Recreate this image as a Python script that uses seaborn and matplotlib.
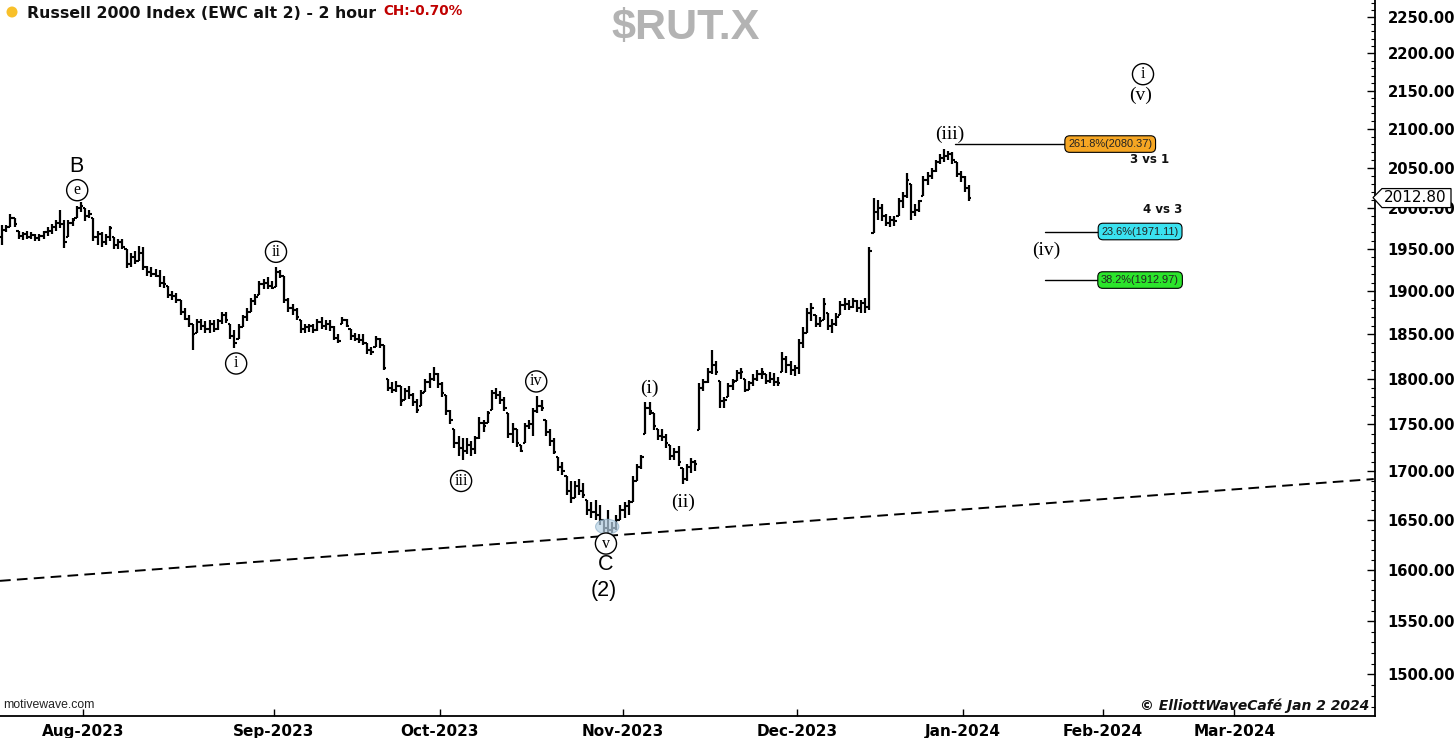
import numpy as np
import matplotlib
matplotlib.use("Agg")
import matplotlib.pyplot as plt
import seaborn as sns
from matplotlib.ticker import FixedLocator, FixedFormatter, NullFormatter
from matplotlib.patches import Ellipse, Polygon, Circle

# Russell 2000, half-day bars (two per trading day), Jul 18 2023 - Jan 2 2024
jul_high = [1979, 1979, 1992, 1988, 1972, 1970, 1972, 1970, 1968, 1968,
            1972, 1976, 1980, 1985, 1997, 1985, 1985, 1988, 2002, 2007]
jul_low = [1955, 1970, 1976, 1976, 1962, 1961, 1962, 1962, 1960, 1960,
           1962, 1966, 1968, 1972, 1975, 1951, 1965, 1978, 1988, 1995]
jul_close = [1973, 1976, 1988, 1980, 1966, 1968, 1964, 1967, 1963, 1966,
             1970, 1972, 1977, 1982, 1980, 1958, 1982, 1985, 2000, 2002]

aug_high = [2000, 1998, 1988, 1972, 1970, 1968, 1978, 1965, 1962, 1962,
            1950, 1945, 1948, 1954, 1952, 1930, 1928, 1926, 1925, 1918,
            1906, 1900, 1898, 1890, 1880, 1872, 1862, 1868, 1868, 1865,
            1866, 1866, 1868, 1876, 1876, 1862, 1855, 1862, 1872, 1880,
            1892, 1897, 1912, 1914, 1916, 1912]
aug_low = [1984, 1988, 1960, 1955, 1952, 1955, 1960, 1950, 1950, 1950,
           1927, 1928, 1932, 1935, 1925, 1918, 1917, 1916, 1905, 1904,
           1892, 1890, 1886, 1872, 1866, 1858, 1832, 1852, 1855, 1852,
           1852, 1853, 1855, 1862, 1863, 1845, 1834, 1845, 1858, 1865,
           1876, 1884, 1895, 1902, 1903, 1902]
aug_close = [1990, 1992, 1965, 1968, 1958, 1965, 1975, 1955, 1958, 1952,
             1932, 1940, 1935, 1945, 1928, 1922, 1920, 1918, 1910, 1908,
             1895, 1894, 1890, 1876, 1868, 1862, 1850, 1864, 1860, 1856,
             1862, 1856, 1865, 1872, 1866, 1848, 1840, 1858, 1870, 1876,
             1888, 1893, 1908, 1910, 1906, 1904]

sep_high = [1928, 1925, 1918, 1892, 1885, 1880, 1866, 1862, 1862, 1862,
            1868, 1870, 1866, 1866, 1860, 1850, 1870, 1868, 1856, 1852,
            1850, 1850, 1840, 1836, 1848, 1846, 1838, 1800, 1796, 1798,
            1792, 1790, 1792, 1784, 1778, 1788, 1800, 1806, 1813, 1806]
sep_low = [1905, 1915, 1886, 1876, 1872, 1866, 1852, 1852, 1853, 1852,
           1854, 1856, 1855, 1854, 1843, 1840, 1862, 1858, 1844, 1842,
           1840, 1838, 1828, 1826, 1836, 1834, 1810, 1786, 1784, 1785,
           1770, 1776, 1778, 1770, 1762, 1770, 1785, 1790, 1798, 1790]
sep_close = [1922, 1918, 1890, 1880, 1878, 1870, 1856, 1858, 1860, 1855,
             1864, 1860, 1862, 1858, 1846, 1842, 1866, 1860, 1848, 1845,
             1843, 1840, 1832, 1830, 1845, 1838, 1812, 1790, 1788, 1792,
             1775, 1786, 1782, 1774, 1766, 1784, 1796, 1800, 1805, 1794]

oct_high = [1796, 1782, 1766, 1745, 1738, 1735, 1735, 1732, 1738, 1758,
            1755, 1765, 1788, 1790, 1786, 1780, 1762, 1752, 1745, 1728,
            1752, 1755, 1768, 1781, 1776, 1755, 1745, 1735, 1715, 1710,
            1695, 1690, 1690, 1692, 1688, 1670, 1668, 1670, 1665, 1650,
            1660, 1648, 1655, 1665]
oct_low = [1780, 1760, 1750, 1725, 1716, 1712, 1718, 1716, 1718, 1734,
           1742, 1752, 1766, 1778, 1772, 1764, 1735, 1730, 1726, 1720,
           1730, 1745, 1738, 1762, 1765, 1738, 1727, 1718, 1700, 1696,
           1675, 1667, 1672, 1675, 1672, 1655, 1652, 1650, 1645, 1638,
           1636, 1637, 1640, 1650]
oct_close = [1784, 1764, 1755, 1730, 1725, 1722, 1728, 1724, 1735, 1752,
             1748, 1762, 1784, 1782, 1776, 1768, 1740, 1745, 1730, 1722,
             1748, 1750, 1765, 1770, 1768, 1742, 1732, 1720, 1705, 1700,
             1680, 1672, 1685, 1680, 1675, 1660, 1658, 1655, 1650, 1642,
             1640, 1642, 1650, 1660]

nov_high = [1668, 1670, 1695, 1708, 1717, 1774, 1774, 1762, 1745, 1745,
            1740, 1728, 1725, 1727, 1704, 1708, 1714, 1712, 1795, 1800,
            1812, 1832, 1820, 1798, 1780, 1795, 1800, 1810, 1812, 1800,
            1798, 1805, 1810, 1812, 1805, 1808, 1806, 1802, 1830, 1825,
            1820, 1815]
nov_low = [1652, 1655, 1668, 1690, 1703, 1740, 1760, 1744, 1733, 1732,
           1725, 1712, 1712, 1706, 1687, 1690, 1698, 1700, 1744, 1786,
           1795, 1805, 1804, 1768, 1768, 1780, 1788, 1798, 1800, 1785,
           1788, 1792, 1798, 1800, 1794, 1795, 1792, 1792, 1808, 1806,
           1804, 1803]
nov_close = [1664, 1668, 1690, 1705, 1715, 1768, 1765, 1748, 1738, 1736,
             1730, 1716, 1720, 1710, 1692, 1705, 1710, 1708, 1790, 1796,
             1808, 1815, 1808, 1775, 1776, 1792, 1796, 1806, 1808, 1788,
             1795, 1800, 1805, 1808, 1798, 1800, 1796, 1795, 1822, 1815,
             1810, 1812]

dec_high = [1845, 1858, 1880, 1886, 1872, 1870, 1892, 1875, 1868, 1874,
            1888, 1892, 1890, 1892, 1890, 1890, 1892, 1952, 2012, 2010,
            2005, 1992, 1990, 1990, 2012, 2020, 2043, 2030, 2005, 2010,
            2040, 2045, 2050, 2060, 2068, 2074, 2072, 2070, 2058, 2046]
dec_low = [1805, 1835, 1852, 1865, 1858, 1858, 1866, 1855, 1851, 1860,
           1872, 1878, 1878, 1880, 1876, 1875, 1874, 1878, 1969, 1985,
           1984, 1978, 1976, 1978, 1990, 2000, 2012, 1985, 1990, 1995,
           2015, 2028, 2036, 2045, 2055, 2058, 2060, 2055, 2038, 2032]
dec_close = [1840, 1852, 1875, 1880, 1862, 1865, 1885, 1860, 1862, 1870,
             1884, 1885, 1882, 1888, 1880, 1886, 1882, 1948, 1995, 2000,
             1990, 1982, 1985, 1984, 2008, 2015, 2035, 1995, 1998, 2008,
             2035, 2040, 2046, 2058, 2062, 2065, 2068, 2060, 2042, 2038]

jan_high = [2040, 2028]
jan_low = [2020, 2008]
jan_close = [2025, 2012.80]

month_names = ["Aug-2023", "Sep-2023", "Oct-2023", "Nov-2023", "Dec-2023",
               "Jan-2024", "Feb-2024", "Mar-2024"]
future_days = [31, 29]          # calendar days of Jan and Feb 2024
future_units_per_day = 1.09     # projected area is laid out by calendar day

# dashed trend line (two anchors)
trend_x = [-0.5, 330.5]
trend_price = [1589, 1692]

# fibonacci projection levels
fib_labels = ["261.8%(2080.37)", "23.6%(1971.11)", "38.2%(1912.97)"]
fib_prices = [2080.37, 1971.11, 1912.97]
fib_colors = ["#f6a623", "#3ae2f0", "#2be52b"]

circled = [("e", 18.1, 2022), ("ii", 66.0, 1946.6), ("i", 56.4, 1817),
           ("iii", 110.6, 1690), ("iv", 128.7, 1797), ("v", 145.5, 1626),
           ("i", 274.9, 2172)]
plain_sans = [("B", 17.8, 2052), ("C", 145.5, 1605.5), ("(2)", 145.0, 1580)]
plain_serif = [("(i)", 155.9, 1789), ("(ii)", 164.1, 1668), ("(iii)", 228.4, 2093),
               ("(iv)", 251.5, 1948), ("(v)", 274.4, 2144)]

sns.set_theme(style="white")
plt.rcParams["font.family"] = ["DejaVu Sans"]

segments = [(jul_high, jul_low, jul_close), (aug_high, aug_low, aug_close),
            (sep_high, sep_low, sep_close), (oct_high, oct_low, oct_close),
            (nov_high, nov_low, nov_close), (dec_high, dec_low, dec_close),
            (jan_high, jan_low, jan_close)]
high = np.concatenate([s[0] for s in segments]).astype(float)
low = np.concatenate([s[1] for s in segments]).astype(float)
close = np.concatenate([s[2] for s in segments]).astype(float)
opn = np.clip(np.r_[1965.0, close[:-1]], low, high)
x = np.arange(len(close))

# month tick positions from the bar counts
starts = np.cumsum([len(s[2]) for s in segments])[:-1] - 0.5
ticks = list(starts)
for d in future_days:
    ticks.append(ticks[-1] + d * future_units_per_day)

fig = plt.figure(figsize=(14.56, 7.38), dpi=100)
ax = fig.add_axes([0, 1 - 716 / 738, 1375 / 1456, 716 / 738])
ax.set_facecolor("white")

# OHLC bars
ax.vlines(x, low, high, color="black", lw=1.6)
ax.hlines(opn, x - 0.55, x, color="black", lw=1.5)
ax.hlines(close, x, x + 0.55, color="black", lw=1.5)

# light blue marker around the October low
ax.add_patch(Ellipse((145.8, 1643), 5.6, 15, fc="#b9d3e6", ec="#8fb0c8",
                     lw=0.8, alpha=0.7, zorder=3))

sns.lineplot(x=trend_x, y=trend_price, ax=ax, color="black", lw=1.4,
             linestyle=(0, (5.5, 3.2)))

# fib lines and boxes
line_spans = [(229.6, 256.1), (251.3, 264.1), (251.3, 264.1)]
box_x = [267.0, 274.2, 274.2]
for lab, p, c, (x0, x1), bx in zip(fib_labels, fib_prices, fib_colors, line_spans, box_x):
    ax.plot([x0, x1], [p, p], color="black", lw=1.0)
    ax.text(bx, p, lab, ha="center", va="center", fontsize=7.9,
            family="Liberation Sans", color="#222222",
            bbox=dict(boxstyle="round,pad=0.3,rounding_size=0.45",
                      fc=c, ec="black", lw=0.8))
ax.text(276.5, 2061, "3 vs 1", ha="center", va="center", fontsize=8.5,
        fontweight="bold", color="#111111")
ax.text(279.7, 1997.5, "4 vs 3", ha="center", va="center", fontsize=8.5,
        fontweight="bold", color="#111111")

for t, xx, yy in circled:
    ax.text(xx, yy, t, ha="center", va="center", fontsize=11.5,
            family="Liberation Serif", color="black", zorder=5,
            bbox=dict(boxstyle="circle,pad=0.16", fc="white", ec="black", lw=1.0))
for t, xx, yy in plain_sans:
    ax.text(xx, yy, t, ha="center", va="center", fontsize=15.5,
            family="Liberation Sans", color="black")
for t, xx, yy in plain_serif:
    ax.text(xx, yy, t, ha="center", va="center", fontsize=14,
            family="Liberation Serif", color="black")

# axes
ax.set_yscale("log")
ax.set_ylim(1461.9, 2273.7)
ax.set_xlim(-0.5, 330.8)
yt = list(range(1500, 2251, 50))
ax.yaxis.set_major_locator(FixedLocator(yt))
ax.yaxis.set_major_formatter(FixedFormatter([f"{v:.2f}" for v in yt]))
ax.yaxis.set_minor_locator(FixedLocator([v for v in range(1470, 2271, 10) if v % 50]))
ax.yaxis.set_minor_formatter(NullFormatter())
ax.yaxis.tick_right()
ax.tick_params(axis="y", which="major", direction="in", length=6, width=1,
               pad=9, labelsize=10.6, colors="black")
ax.tick_params(axis="y", which="minor", direction="in", length=3, width=0.8,
               colors="black")
for lbl in ax.get_yticklabels():
    lbl.set_fontweight("bold")
ax.set_xticks(ticks)
ax.set_xticklabels(month_names, fontweight="bold", fontsize=11)
ax.tick_params(axis="x", direction="in", length=5, width=1, pad=6,
               colors="black", bottom=True)
ax.xaxis.set_minor_locator(FixedLocator([]))
for side in ["top", "left"]:
    ax.spines[side].set_visible(False)
for side in ["right", "bottom"]:
    ax.spines[side].set_color("black")
    ax.spines[side].set_linewidth(1.3)
ax.grid(False)

# current price tag on the axis
fig.canvas.draw()
ty = ax.transData.transform((0, close[-1]))[1]
rx = ax.transAxes.transform((1, 0))[0]
tag = Polygon([(rx - 2, ty), (rx + 7, ty + 9), (rx + 76, ty + 9),
               (rx + 76, ty - 10), (rx + 7, ty - 10)], closed=True,
              transform=None, fc="white", ec="black", lw=0.9, zorder=10)
fig.patches.append(tag)
fig.text((rx + 9) / 1456, ty / 738, f"{close[-1]:.2f}", ha="left", va="center",
         fontsize=11, color="black", zorder=11)

# header and footer texts
fig.patches.append(Circle((12, 738 - 12), 5.5, transform=None,
                          fc="#f8c02a", ec="none"))
fig.text(27 / 1456, 1 - 14 / 738, "Russell 2000 Index (EWC alt 2) - 2 hour",
         ha="left", va="center", fontsize=11.3, fontweight="bold", color="#111111")
fig.text(383 / 1456, 1 - 11 / 738, "CH:-0.70%", ha="left", va="center",
         fontsize=9.8, fontweight="bold", color="#c00000")
fig.text(686 / 1456, 1 - 28 / 738, "$RUT.X", ha="center", va="center",
         fontsize=31, fontweight="bold", family="Liberation Sans", color="#b3b3b3")
fig.text(3 / 1456, 1 - 705 / 738, "motivewave.com", ha="left", va="center",
         fontsize=8.8, family="Liberation Sans", color="#222222")
fig.text(1369 / 1456, 1 - 706 / 738, "\u00a9 ElliottWaveCaf\u00e9 Jan 2 2024",
         ha="right", va="center", fontsize=10, fontweight="bold", style="italic",
         color="#111111")

fig.savefig("out.png", dpi=100, facecolor="white")
